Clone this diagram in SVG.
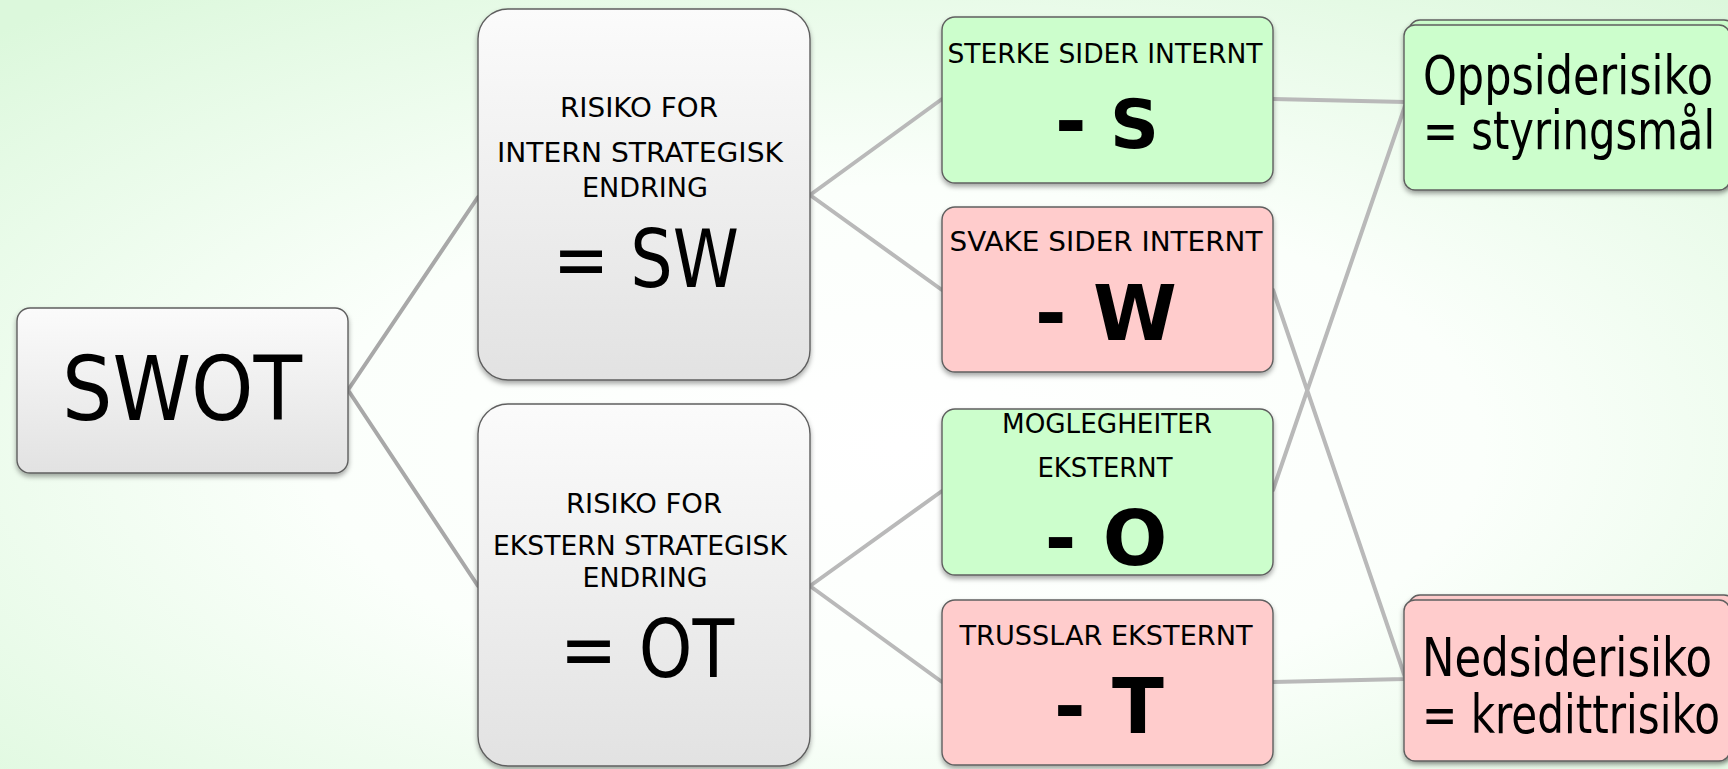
<svg xmlns="http://www.w3.org/2000/svg" width="1728" height="769" viewBox="0 0 1728 769">
  <defs>
    <radialGradient id="bg" cx="52%" cy="58%" r="75%">
      <stop offset="0" stop-color="#ffffff"/>
      <stop offset="0.45" stop-color="#fbfffb"/>
      <stop offset="1" stop-color="#dcf8dc"/>
    </radialGradient>
    <linearGradient id="grey" x1="0" y1="0" x2="0" y2="1">
      <stop offset="0" stop-color="#fbfbfb"/>
      <stop offset="1" stop-color="#e2e2e2"/>
    </linearGradient>
    <filter id="shadow" x="-10%" y="-10%" width="120%" height="130%">
      <feDropShadow dx="0" dy="3" stdDeviation="2.5" flood-color="#000" flood-opacity="0.35"/>
    </filter>
    <style>
      .box { stroke: #5f5f5f; stroke-width: 1.4; filter: url(#shadow); }
      .grey { fill: url(#grey); }
      .green { fill: #ccfecc; }
      .red { fill: #ffcccc; }
      .link { fill: none; stroke-width: 4; stroke-linecap: round; }
      .l1 { stroke: #a8a8a8; }
      .l2 { stroke: #b9b9b9; }
      text { font-family: "DejaVu Sans", "Verdana", sans-serif; fill: #000; text-anchor: middle; }
      .cond { font-family: "DejaVu Sans Condensed", "DejaVu Sans", sans-serif; }
      .small { font-size: 27px; }
      .big { font-size: 80px; }
      .huge { font-size: 89px; }
      .bold { font-weight: bold; font-size: 76px; }
      .right { font-size: 54px; }
    </style>
  </defs>

  <rect width="1728" height="769" fill="url(#bg)"/>

  <!-- connectors -->
  <g id="connectors">
    <path class="link l1" d="M348,390 L478,197 M348,390 L478,586"/>
    <path class="link l2" d="M810,195 L942,99 M810,195 L942,290 M810,586 L942,491 M810,586 L942,682"/>
    <path class="link l2" d="M1273,99 L1405,102 M1273,490 L1405,106 M1273,290 L1405,677 M1273,682 L1405,679"/>
  </g>

  <!-- root -->
  <g id="swot">
    <rect class="box grey" x="17" y="308" width="331" height="165" rx="13"/>
    <text class="cond huge" x="182" y="420" textLength="240" lengthAdjust="spacingAndGlyphs">SWOT</text>
  </g>

  <!-- second level -->
  <g id="sw">
    <rect class="box grey" x="478" y="9" width="332" height="371" rx="30"/>
    <text class="small" x="639" y="117" textLength="158" lengthAdjust="spacingAndGlyphs">RISIKO FOR</text>
    <text class="small" x="640" y="162" textLength="286" lengthAdjust="spacingAndGlyphs">INTERN STRATEGISK</text>
    <text class="small" x="645" y="197" textLength="126" lengthAdjust="spacingAndGlyphs">ENDRING</text>
    <text class="cond big" x="646" y="287" textLength="186" lengthAdjust="spacingAndGlyphs">= SW</text>
  </g>
  <g id="ot">
    <rect class="box grey" x="478" y="404" width="332" height="362" rx="30"/>
    <text class="small" x="644" y="513" textLength="156" lengthAdjust="spacingAndGlyphs">RISIKO FOR</text>
    <text class="small" x="640" y="555" textLength="294" lengthAdjust="spacingAndGlyphs">EKSTERN STRATEGISK</text>
    <text class="small" x="645" y="587" textLength="125" lengthAdjust="spacingAndGlyphs">ENDRING</text>
    <text class="cond big" x="647" y="677" textLength="174" lengthAdjust="spacingAndGlyphs">= OT</text>
  </g>

  <!-- third level -->
  <g id="s">
    <rect class="box green" x="942" y="17" width="331" height="166" rx="13"/>
    <text class="small" x="1105" y="63" textLength="315" lengthAdjust="spacingAndGlyphs">STERKE SIDER INTERNT</text>
    <text class="bold" x="1107" y="148"><tspan>-</tspan><tspan font-size="68"> S</tspan></text>
  </g>
  <g id="w">
    <rect class="box red" x="942" y="207" width="331" height="165" rx="13"/>
    <text class="small" x="1106" y="251" textLength="313" lengthAdjust="spacingAndGlyphs">SVAKE SIDER INTERNT</text>
    <text class="bold" x="1106" y="340">- W</text>
  </g>
  <g id="o">
    <rect class="box green" x="942" y="409" width="331" height="166" rx="13"/>
    <text class="small" x="1107" y="433" textLength="210" lengthAdjust="spacingAndGlyphs">MOGLEGHEITER</text>
    <text class="small" x="1105" y="477" textLength="135" lengthAdjust="spacingAndGlyphs">EKSTERNT</text>
    <text class="bold" x="1106" y="565">- O</text>
  </g>
  <g id="t">
    <rect class="box red" x="942" y="600" width="331" height="165" rx="13"/>
    <text class="small" x="1106" y="645" textLength="293" lengthAdjust="spacingAndGlyphs">TRUSSLAR EKSTERNT</text>
    <text class="bold" x="1109" y="733">- T</text>
  </g>

  <!-- outcomes (stacked cards) -->
  <g id="oppside">
    <rect class="box green" x="1409" y="20" width="326" height="165" rx="11"/>
    <rect class="box green" x="1404" y="25" width="326" height="165" rx="11"/>
    <text class="cond right" x="1568" y="94" textLength="290" lengthAdjust="spacingAndGlyphs">Oppsiderisiko</text>
    <text class="cond right" x="1569" y="149" textLength="292" lengthAdjust="spacingAndGlyphs">= styringsmål</text>
  </g>
  <g id="nedside">
    <rect class="box red" x="1409" y="595" width="326" height="162" rx="11"/>
    <rect class="box red" x="1404" y="600" width="326" height="161" rx="11"/>
    <text class="cond right" x="1567" y="676" textLength="290" lengthAdjust="spacingAndGlyphs">Nedsiderisiko</text>
    <text class="cond right" x="1571" y="733" textLength="298" lengthAdjust="spacingAndGlyphs">= kredittrisiko</text>
  </g>
</svg>
